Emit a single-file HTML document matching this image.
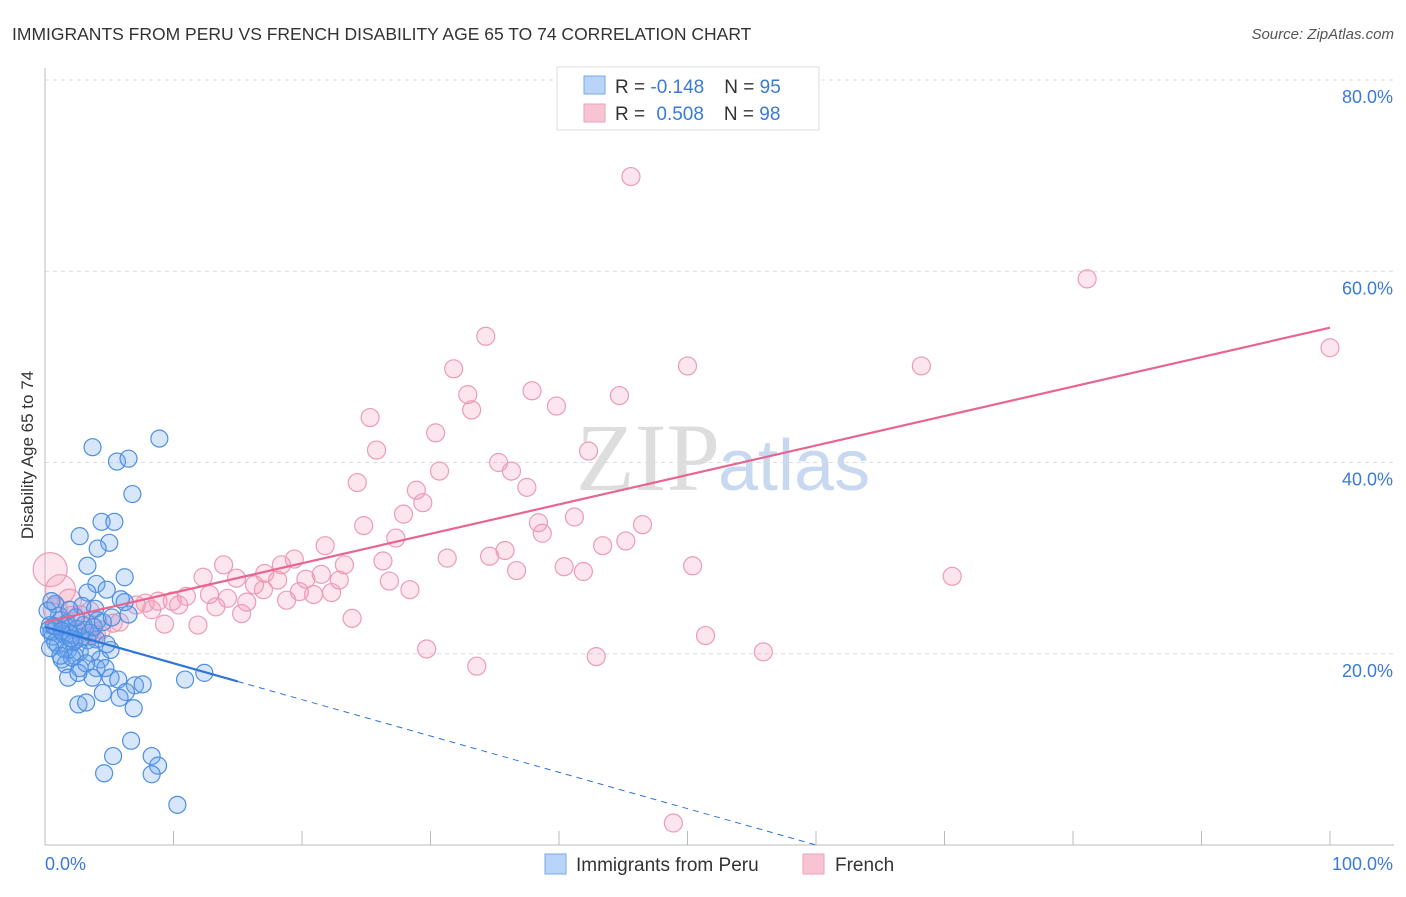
<!DOCTYPE html>
<html><head><meta charset="utf-8"><style>
body{margin:0;background:#fff;font-family:"Liberation Sans",sans-serif;}
</style></head><body>
<svg id="chart" width="1406" height="892" xmlns="http://www.w3.org/2000/svg" font-family="Liberation Sans, sans-serif">
<text x="12" y="40" font-size="17.5" fill="#333">IMMIGRANTS FROM PERU VS FRENCH DISABILITY AGE 65 TO 74 CORRELATION CHART</text>
<text x="1394" y="39" font-size="15" fill="#555" text-anchor="end" font-style="italic">Source: ZipAtlas.com</text>
<text x="720" y="490" font-size="96" text-anchor="end" fill="#ddd" font-family="Liberation Serif, serif">ZIP</text>
<text x="718" y="490" font-size="72" fill="#c8d8f0">atlas</text>
<g id="grid"></g>
<g id="marks"></g>
<text transform="translate(33,455) rotate(-90)" font-size="17" fill="#333" text-anchor="middle">Disability Age 65 to 74</text>
<g>
<rect x="557" y="67" width="262" height="63" fill="#fff" stroke="#ddd"/>
<rect x="584" y="76" width="21" height="18" fill="#b8d4f8" stroke="#7aa8e8"/>
<rect x="584" y="104" width="21" height="18" fill="#f8c4d4" stroke="#eea0b8"/>
<text x="615" y="93" font-size="19" fill="#333">R = <tspan fill="#3a7ad8">-0.148</tspan><tspan dx="20">N = </tspan><tspan fill="#3a7ad8">95</tspan></text>
<text x="615" y="120" font-size="19" fill="#333">R = <tspan fill="#3a7ad8" dx="6">0.508</tspan><tspan dx="20">N = </tspan><tspan fill="#3a7ad8">98</tspan></text>
</g>
<g>
<rect x="545" y="854" width="21" height="20" fill="#b8d4f8" stroke="#7aa8e8"/>
<text x="576" y="871" font-size="19" fill="#333">Immigrants from Peru</text>
<rect x="803" y="854" width="21" height="20" fill="#f8c4d4" stroke="#eea0b8"/>
<text x="835" y="871" font-size="19" fill="#333">French</text>
</g>
</svg>
<script>
const yTicks=[20,40,60,80];
const yTickLabels=["20.0%","40.0%","60.0%","80.0%"];
const xTicks=[0,10,20,30,40,50,60,70,80,90,100];
const blueX=[3.7,5.6,6.5,8.9,6.8,4.4,5.4,2.7,5.0,4.1,3.3,6.2,4.0,4.8,3.3,5.9,3.9,2.9,0.8,6.5,4.1,1.2,0.4,1.9,3.1,0.5,1.6,2.3,3.3,1.0,1.8,2.7,5.1,1.3,2.3,4.3,1.6,2.7,4.0,4.7,1.8,3.7,5.1,5.7,7.0,7.6,10.9,12.4,4.5,6.3,5.8,2.6,3.2,6.9,5.3,6.7,8.3,8.8,4.6,8.3,10.3,0.3,0.6,0.9,1.1,1.4,1.7,2.0,2.2,2.5,2.8,3.0,3.5,4.0,0.2,0.5,1.5,2.1,0.8,1.2,3.8,4.5,2.4,0.4,1.9,3.6,6.2,5.2,4.8,3.2,2.6,0.7,1.3,2.0];
const blueY=[41.6,40.1,40.4,42.5,36.7,33.8,33.8,32.3,31.6,31.0,29.2,28.0,27.3,26.7,26.4,25.7,24.7,25.0,25.2,24.1,23.5,23.5,23.0,22.7,22.5,22.3,21.9,21.4,21.4,20.9,20.4,20.2,20.4,19.4,19.8,19.4,18.9,18.5,18.5,18.5,17.5,17.5,17.5,17.3,16.7,16.8,17.3,18.0,15.9,16.0,15.4,14.7,14.9,14.3,9.3,10.9,9.3,8.3,7.5,7.4,4.2,22.5,21.8,22.8,24.0,22.1,23.2,22.0,21.2,22.6,21.7,23.0,22.2,21.5,24.5,25.5,20.5,19.6,21.2,19.8,22.8,23.3,23.8,20.6,24.6,20.1,25.4,23.8,21.0,19.0,18.0,22.9,22.4,21.6];
const pinkX=[45.6,81.1,34.3,100,31.8,50,68.2,37.9,32.9,44.7,33.2,39.8,25.3,30.4,25.8,42.3,35.3,36.3,30.7,24.3,37.5,28.9,29.4,27.9,41.2,38.4,46.5,24.8,38.7,27.3,43.4,45.2,21.8,35.8,34.6,31.3,19.4,26.3,23.3,13.9,18.4,50.4,40.4,36.7,41.9,17.1,70.6,12.3,14.9,21.5,20.3,18.1,22.9,26.8,16.3,17.0,19.8,28.4,22.3,20.9,12.8,11.0,14.2,8.8,9.9,15.7,18.8,7.8,7.1,10.4,13.3,8.3,15.3,23.9,5.8,5.3,9.3,11.9,4.4,3.6,51.4,29.7,55.9,42.9,33.6,48.9,41.0,0.4,1.2,0.8,1.9,2.7,3.5,2.0,2.5,3.0,1.5,4.0,3.5];
const pinkY=[69.9,59.2,53.2,52.0,49.8,50.1,50.1,47.5,47.1,47.0,45.5,45.9,44.7,43.1,41.3,41.2,40.0,39.1,39.1,37.9,37.4,37.1,35.8,34.6,34.3,33.7,33.5,33.4,32.6,32.1,31.3,31.8,31.3,30.8,30.2,30.0,29.9,29.7,29.3,29.3,29.3,29.2,29.1,28.7,28.6,28.4,28.1,28.0,27.9,28.3,27.8,27.7,27.7,27.6,27.2,26.7,26.5,26.7,26.4,26.2,26.2,26.0,25.8,25.5,25.5,25.4,25.6,25.3,25.1,25.1,24.9,24.6,24.2,23.7,23.3,23.2,23.1,23.0,22.5,21.9,21.9,20.5,20.2,19.7,18.7,2.3,76.4,28.8,26.7,24.6,25.5,24.0,23.0,24.0,22.5,21.8,23.0,22.0,24.5];
const pinkR=[9,9,9,9,9,9,9,9,9,9,9,9,9,9,9,9,9,9,9,9,9,9,9,9,9,9,9,9,9,9,9,9,9,9,9,9,9,9,9,9,9,9,9,9,9,9,9,9,9,9,9,9,9,9,9,9,9,9,9,9,9,9,9,9,9,9,9,9,9,9,9,9,9,9,9,9,9,9,9,9,9,9,9,9,9,9,9,17,15,12,12,10,10,9,9,9,9,9,9];
const blueFit=[22.8,-0.38];const pinkFit=[23.3,0.308];
const X0=45,X1=1330,Y0=845,PY=9.5625;
const sx=v=>X0+(X1-X0)*v/100, sy=v=>Y0-v*PY;
const NS="http://www.w3.org/2000/svg";
const grid=document.getElementById('grid'),marks=document.getElementById('marks');
function mk(tag,attrs,parent){const e=document.createElementNS(NS,tag);for(const k in attrs)e.setAttribute(k,attrs[k]);parent.appendChild(e);return e;}
yTicks.forEach((t,i)=>{
 const l=mk('line',{x1:X0,x2:1394,y1:sy(t),y2:sy(t),stroke:'#ddd','stroke-dasharray':'4,4'},grid);
 
 
 const tx=mk('text',{x:1393,y:sy(t)+23,'font-size':18,fill:'#3a7ad8','text-anchor':'end'},grid);tx.textContent=yTickLabels[i];
 
 
});
const ax=mk('line',{x1:X0,x2:X0,y1:68,y2:Y0,stroke:'#bbb'},grid);


const bx=mk('line',{x1:X0,x2:1394,y1:Y0,y2:Y0,stroke:'#bbb'},grid);


xTicks.forEach(t=>{const l=mk('line',{x1:sx(t),x2:sx(t),y1:Y0,y2:Y0-14,stroke:'#bbb'},grid);
 
 });
const xl0=mk('text',{x:45,y:870,'font-size':18,fill:'#3a7ad8'},grid);xl0.textContent='0.0%';


const xl1=mk('text',{x:1393,y:870,'font-size':18,fill:'#3a7ad8','text-anchor':'end'},grid);xl1.textContent='100.0%';


pinkX.forEach((x,i)=>{const c=mk('circle',{cx:sx(x),cy:sy(pinkY[i]),r:pinkR[i],fill:'rgba(245,150,180,0.25)',stroke:'#eb9cb5','stroke-width':1.2},marks);
 
 });
blueX.forEach((x,i)=>{const c=mk('circle',{cx:sx(x),cy:sy(blueY[i]),r:8.5,fill:'rgba(110,165,240,0.28)',stroke:'#4d8fe0','stroke-width':1.2},marks);
 
 });
const f=(fit,x)=>fit[0]+fit[1]*x;
const pl=mk('line',{x1:sx(0),y1:sy(f(pinkFit,0)),x2:sx(100),y2:sy(f(pinkFit,100)),stroke:'#e8658f','stroke-width':2.2},marks);


const bl=mk('line',{x1:sx(0),y1:sy(f(blueFit,0)),x2:sx(15),y2:sy(f(blueFit,15)),stroke:'#2f74d8','stroke-width':2.2},marks);


const xe=-blueFit[0]/blueFit[1];
const bd=mk('line',{x1:sx(15),y1:sy(f(blueFit,15)),x2:sx(xe),y2:sy(0),stroke:'#2f74d8','stroke-width':1,'stroke-dasharray':'6,5'},marks);


</script>
</body></html>
